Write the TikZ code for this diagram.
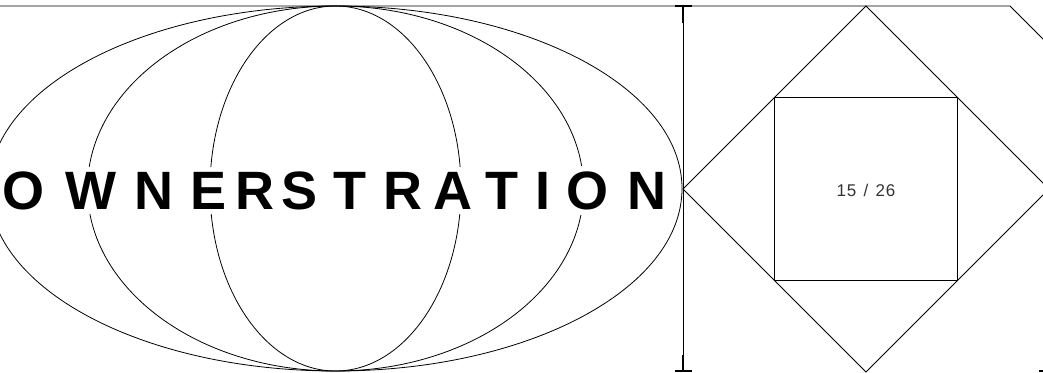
\documentclass[tikz,border=0pt]{standalone}
\usepackage{fontspec}
\setmainfont{Liberation Sans}
\begin{document}
\begin{tikzpicture}[x=1pt,y=-1pt,
  thinline/.style={draw=black,line width=0.8pt},
  letter/.style={anchor=base,fill=white,inner xsep=1pt,inner ysep=5pt,font=\fontsize{54}{60}\selectfont\bfseries},
  pagelabel/.style={anchor=base,inner sep=0pt,text=black!80,font=\fontsize{17}{19}\selectfont}]
\useasboundingbox (0,0) rectangle (1043,372);
\clip (0,0) rectangle (1043,372);
% ellipses
\draw[thinline] (335.5,188.5) ellipse [x radius=346.5, y radius=182.5];
\draw[thinline] (335.5,188.5) ellipse [x radius=248, y radius=182.5];
\draw[thinline] (335.5,188.5) ellipse [x radius=125.5, y radius=182.5];
% top line with diagonal
\draw[thinline] (0,6) -- (1010,6) -- (1080,76);
% vertical dimension line
\draw[thinline] (683,6) -- (683,371);
\draw[line width=2.6pt] (683,6) -- (683,23);
\draw[line width=2.6pt] (683,355) -- (683,371);
\draw[line width=2pt] (675,6) -- (692,6);
\draw[line width=2pt] (675,371) -- (692,371);
% diamond and square
\draw[thinline] (866,6) -- (1049,189) -- (866,372) -- (683,189) -- cycle;
\draw[thinline] (774.5,97.5) rectangle (957.5,280.5);
% bottom right mark
\draw[line width=1.5pt] (1039,371) -- (1043,371);
% title letters
\node[letter] (l1) at (23.5,209) {O};
\node[letter] (l2) at (91,209) {W};
\node[letter] (l3) at (154,209) {N};
\node[letter] (l4) at (208.5,209) {E};
\node[letter] (l5) at (255,209) {R};
\node[letter] (l6) at (299.5,209) {S};
\node[letter] (l7) at (349.5,209) {T};
\node[letter] (l8) at (402.5,209) {R};
\node[letter] (l9) at (453,209) {A};
\node[letter] (l10) at (502,209) {T};
\node[letter] (l11) at (542.5,209) {I};
\node[letter] (l12) at (587.5,209) {O};
\node[letter] (l13) at (646.5,209) {N};
% page label
\node[pagelabel] (page) at (866,196) {1\kern0.8pt5\hspace{2.5pt} / \hspace{2.5pt}2\kern0.8pt6};
\end{tikzpicture}
\end{document}
